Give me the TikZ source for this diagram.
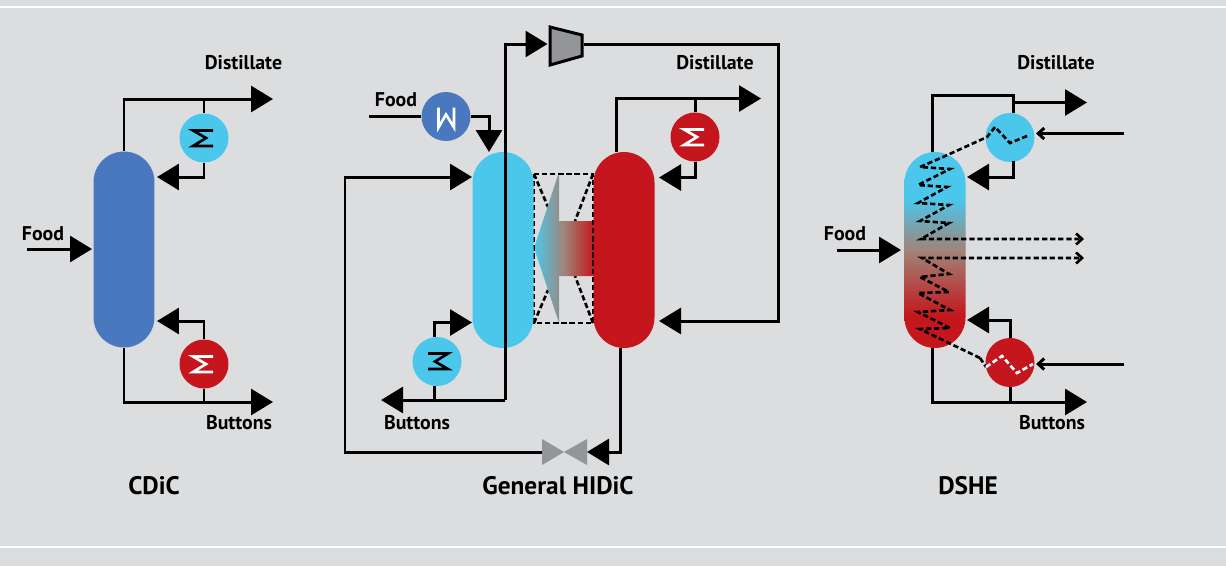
\documentclass[tikz,border=0pt]{standalone}
\usepackage{fontspec}
\setmainfont{PT Sans}
\usetikzlibrary{arrows.meta}
\definecolor{panelgray}{RGB}{220,221,223}
\definecolor{coldcyan}{RGB}{75,199,236}
\definecolor{feedblue}{RGB}{74,120,190}
\definecolor{hotred}{RGB}{196,22,28}
\definecolor{unitgray}{RGB}{147,149,152}
\definecolor{mixbrown}{RGB}{160,132,120}
% column colour: cyan on top, red below
\pgfdeclareverticalshading{dsheshade}{100bp}{color(0bp)=(hotred); color(33bp)=(hotred); color(50bp)=(mixbrown); color(63bp)=(coldcyan); color(100bp)=(coldcyan)}
\tikzset{
  columnbox/.style={rectangle, minimum width=1.22cm, minimum height=3.92cm, inner sep=0pt, rounded corners=0.61cm},
  exchanger/.style={circle, minimum size=0.98cm, inner sep=0pt},
  pipeline/.style={line width=1.7pt},
  flowline/.style={pipeline, -{Triangle[length=0.44cm,width=0.52cm]}},
  sideline/.style={pipeline, -{Straight Barb[length=1.2mm,width=2.2mm]}},
  coilline/.style={line width=1.5pt, dash pattern=on 3pt off 1.6pt},
  sideflow/.style={coilline, -{Straight Barb[length=1.2mm,width=2.2mm,line width=1.5pt]}},
  streamlabel/.style={font=\bfseries\fontsize{11.3}{13}\selectfont},
  titlelabel/.style={font=\bfseries\fontsize{14.4}{16}\selectfont},
  coilmark/.pic={\draw[line width=1.5pt, pic actions] (9,-7.5) -- (-11,-7.5) -- (2,0) -- (-11,8) -- (9,8);}
}
\begin{document}
\begin{tikzpicture}[x=0.02cm,y=-0.02cm]
\useasboundingbox (0,0) rectangle (1226,566);
\fill[panelgray] (0,0) rectangle (1226,566);
\draw[white, line width=1.2pt] (0,7) -- (1226,7);
\draw[white, line width=1.2pt] (0,547) -- (1226,547);

% CDiC
\node[columnbox, fill=feedblue] (cdicCol) at (124,249.5) {};
\node[exchanger, fill=coldcyan] (cdicCond) at (204,138) {};
\node[exchanger, fill=hotred] (cdicBoil) at (204,364) {};
\pic[black] at (cdicCond) {coilmark};
\pic[white] at (cdicBoil) {coilmark};
\coordinate (cdicTopEnd) at (273,99);
\coordinate (cdicBotEnd) at (273,402);
\coordinate (cdicReflux) at (157,177);
\coordinate (cdicBoilUp) at (157,321);
\coordinate (cdicFeed) at (27,249);
\coordinate (cdicFeedEnd) at (92,249);
\draw[flowline] (cdicCol.north) |- (cdicTopEnd);
\draw[pipeline] (cdicCond.north) -- (cdicCond.north |- cdicTopEnd);
\draw[flowline] (cdicCond.south) |- (cdicReflux);
\draw[flowline] (cdicBoil.north) |- (cdicBoilUp);
\draw[flowline] (cdicCol.south) |- (cdicBotEnd);
\draw[pipeline] (cdicBoil.south) -- (cdicBoil.south |- cdicBotEnd);
\draw[flowline] (cdicFeed) -- (cdicFeedEnd);
\node[streamlabel] (cdicDist) at (243.5,63) {Distillate};
\node[streamlabel] (cdicButt) at (239,423) {Buttons};
\node[streamlabel] (cdicFood) at (43,234) {Food};
\node[titlelabel] (cdicName) at (154,486) {CDiC};

% General HIDiC: heat transfer between the columns
\draw[coilline] (534,174) -- (548,207);
\draw[coilline] (593,174) -- (575,221);
\draw[coilline] (534,323) -- (548,290);
\draw[coilline] (593,323) -- (575,276);
\shade[left color=coldcyan, right color=hotred, middle color=mixbrown]
  (559,172) -- (534,248) -- (559,323) -- (559,276) -- (594,276) -- (594,221) -- (559,221) -- cycle;
\draw[coilline] (534,174) -- (593,174) -- (593,323) -- (534,323) -- cycle;
\node[columnbox, fill=coldcyan] (hidicLeft) at (503,250) {};
\node[columnbox, fill=hotred] (hidicRight) at (624,250) {};
\node[exchanger, fill=hotred] (hidicCond) at (695,137) {};
\node[exchanger, fill=coldcyan] (hidicBoil) at (437,361.5) {};
\node[exchanger, fill=feedblue] (hidicHeat) at (446,116.5) {};
\pic[white] at (hidicCond) {coilmark};
\pic[black, rotate=180] at (hidicBoil) {coilmark};
\pic[white, rotate=90] at (hidicHeat) {coilmark};

% compressor and valve
\draw[pipeline, fill=unitgray] (550,27) -- (582,35) -- (582,56) -- (550,65) -- cycle;
\fill[unitgray] (542,439) -- (542,465) -- (564,452) -- (587,465) -- (587,439) -- (564,452) -- cycle;

\coordinate (hidicBend) at (505,400);
\coordinate (hidicLowEnd) at (381,400);
\coordinate (hidicCompIn) at (547.5,44);
\coordinate (hidicCompOut) at (584,44);
\coordinate (hidicBack) at (659,321);
\coordinate (hidicCorner) at (778,44);
\coordinate (hidicTopEnd) at (761,98.5);
\coordinate (hidicTopStart) at (616,152);
\coordinate (hidicReflux) at (659,177.5);
\coordinate (hidicLeftIn) at (472,177);
\coordinate (hidicBoilIn) at (472,322.5);
\coordinate (hidicBoilTop) at (434,337);
\coordinate (hidicBoilLow) at (434,386);
\coordinate (hidicFeed) at (369,116.5);
\coordinate (hidicFeedEnd) at (489,152);
\coordinate (hidicValveIn) at (587,452);
\coordinate (hidicDrop) at (620,348);
\coordinate (hidicValveOut) at (542,452);
\coordinate (hidicRetCorner) at (345,452);

\draw[flowline] (hidicBend) -- (hidicLowEnd);
\draw[flowline] (hidicBend) |- (hidicCompIn);
\draw[flowline] (hidicCompOut) -- (hidicCorner) |- (hidicBack);
\draw[flowline] (hidicTopStart) |- (hidicTopEnd);
\draw[pipeline] (hidicCond.north) -- (hidicCond.north |- hidicTopEnd);
\draw[flowline] (hidicCond.south) |- (hidicReflux);
\draw[flowline] (hidicBoilTop) |- (hidicBoilIn);
\draw[pipeline] (hidicBoilLow) -- (hidicBoilLow |- hidicLowEnd);
\draw[pipeline] (hidicFeed) -- (hidicHeat.west);
\draw[flowline] (hidicHeat.east) -| (hidicFeedEnd);
\draw[flowline] (hidicDrop) |- (hidicValveIn);
\draw[flowline] (hidicValveOut) -- (hidicRetCorner) |- (hidicLeftIn);
\node[streamlabel] (hidicDist) at (715,63) {Distillate};
\node[streamlabel] (hidicButt) at (417,423) {Buttons};
\node[streamlabel] (hidicFood) at (396,100) {Food};
\node[titlelabel] (hidicName) at (558,486) {General HIDiC};

% DSHE
\node[columnbox, shade, shading=dsheshade] (dsheCol) at (935,250) {};
\node[exchanger, fill=coldcyan] (dsheCond) at (1010,137.5) {};
\node[exchanger, fill=hotred] (dsheBoil) at (1010,362.5) {};
\coordinate (dsheTopStart) at (932,152);
\coordinate (dsheTopCorner) at (1013,95);
\coordinate (dsheTopTee) at (1013,102.5);
\coordinate (dsheTopEnd) at (1087,102.5);
\coordinate (dsheCondLow) at (1013,161);
\coordinate (dsheReflux) at (967,177);
\coordinate (dsheBoilUp) at (967,320);
\coordinate (dsheBotStart) at (932,348);
\coordinate (dsheBotEnd) at (1087,402);
\coordinate (dsheFeed) at (837,250);
\coordinate (dsheFeedEnd) at (901,250);
\coordinate (dsheCoolIn) at (1124,133.5);
\coordinate (dsheCoolEnd) at (1036,133.5);
\coordinate (dsheHeatIn) at (1124,364);
\coordinate (dsheHeatEnd) at (1036,364);
\coordinate (dsheSideA) at (1084,239);
\coordinate (dsheSideB) at (1084,258);
\draw[pipeline] (dsheTopStart) |- (dsheTopCorner) -- (dsheCond.north -| dsheTopCorner);
\draw[flowline] (dsheTopTee) -- (dsheTopEnd);
\draw[flowline] (dsheCondLow) |- (dsheReflux);
\draw[flowline] (dsheBoil.north) |- (dsheBoilUp);
\draw[flowline] (dsheBotStart) |- (dsheBotEnd);
\draw[pipeline] (dsheBoil.south) -- (dsheBoil.south |- dsheBotEnd);
\draw[flowline] (dsheFeed) -- (dsheFeedEnd);
\draw[sideline] (dsheCoolIn) -- (dsheCoolEnd);
\draw[sideline] (dsheHeatIn) -- (dsheHeatEnd);

% upper coil
\draw[sideflow] (1027,136) -- (1010,143) -- (995,127) -- (987,137) -- (943,157)
  -- (920,167) -- (950,169) -- (918,185) -- (947,187) -- (918,203) -- (949,205)
  -- (920,221) -- (949,223) -- (921,239) -- (dsheSideA);
% lower coil
\draw[sideflow] (980,358) -- (920,329) -- (950,328) -- (918,312) -- (950,310)
  -- (918,293) -- (949,292) -- (920,277) -- (949,274) -- (922,258) -- (dsheSideB);
\draw[coilline] (980,358) -- (986,367);
\draw[coilline, white] (986,367) -- (1002,356) -- (1017,373) -- (1033,364);

\node[streamlabel] (dsheDist) at (1056,63) {Distillate};
\node[streamlabel] (dsheButt) at (1052,423) {Buttons};
\node[streamlabel] (dsheFood) at (845,234) {Food};
\node[titlelabel] (dsheName) at (968,486) {DSHE};
\end{tikzpicture}
\end{document}
